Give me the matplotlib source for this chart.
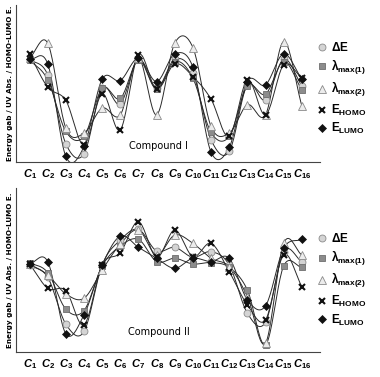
import numpy as np
import matplotlib
matplotlib.use("Agg")
import matplotlib.pyplot as plt

plt.rcParams['mathtext.fontset'] = 'custom'
plt.rcParams['mathtext.it'] = 'Liberation Sans:italic:bold'
plt.rcParams['mathtext.rm'] = 'Liberation Sans:bold'
plt.rcParams['mathtext.bf'] = 'Liberation Sans:bold'

categories = [r'$C_{%d}$' % i for i in range(1, 17)]
series_names = [r'$\mathrm{\Delta E}$', r'$\mathrm{\lambda}_{\mathrm{max(1)}}$',
                r'$\mathrm{\lambda}_{\mathrm{max(2)}}$',
                r'$\mathrm{E}_{\mathrm{HOMO}}$', r'$\mathrm{E}_{\mathrm{LUMO}}$']

# compound I (arbitrary units)
c1_dE    = [309, 262, 55, 25, 222, 175, 309, 222, 309, 267, 67, 32, 232, 187, 309, 229]
c1_lam1  = [307, 247, 92, 77, 222, 191, 307, 219, 302, 252, 89, 77, 229, 204, 302, 217]
c1_lam2  = [312, 357, 102, 87, 162, 142, 312, 142, 357, 344, 107, 87, 172, 142, 362, 169]
c1_homo  = [324, 225, 185, 52, 205, 97, 322, 219, 295, 257, 189, 77, 247, 142, 292, 252]
c1_lumo  = [309, 295, 17, 47, 249, 245, 312, 242, 325, 285, 30, 44, 242, 232, 325, 249]

# compound II
c2_dE    = [262, 225, 84, 62, 262, 337, 369, 304, 315, 285, 302, 262, 117, 90, 302, 272]
c2_lam1  = [269, 239, 129, 125, 259, 319, 339, 272, 282, 265, 269, 255, 187, 22, 259, 255]
c2_lam2  = [265, 232, 175, 162, 247, 325, 367, 292, 352, 327, 282, 257, 167, 27, 327, 292]
c2_homo  = [265, 192, 185, 82, 262, 299, 392, 285, 367, 287, 327, 242, 142, 97, 292, 197]
c2_lumo  = [265, 272, 55, 112, 262, 349, 315, 282, 252, 282, 272, 282, 157, 139, 312, 339]

styles = [
    dict(marker='o', ms=5, mfc='#d4d4d4', mec='#8a8a8a', mew=0.6),
    dict(marker='s', ms=5, mfc='#8c8c8c', mec='#6e6e6e', mew=0.6),
    dict(marker='^', ms=6, mfc='#ececec', mec='#8a8a8a', mew=0.6),
    dict(marker='x', ms=4.5, mfc='k', mec='#111111', mew=1.5),
    dict(marker='D', ms=4.5, mfc='#111111', mec='#111111', mew=0.5),
]


def smooth(x, y, n=20):
    # catmull-rom style smoothing, like spreadsheet "smoothed line"
    x = np.asarray(x, float)
    y = np.asarray(y, float)
    px = np.concatenate([[2 * x[0] - x[1]], x, [2 * x[-1] - x[-2]]])
    py = np.concatenate([[2 * y[0] - y[1]], y, [2 * y[-1] - y[-2]]])
    xs, ys = [], []
    t = np.linspace(0, 1, n, endpoint=False)
    for i in range(1, len(px) - 2):
        for arr, out in ((px, xs), (py, ys)):
            p0, p1, p2, p3 = arr[i - 1], arr[i], arr[i + 1], arr[i + 2]
            out.extend(0.5 * (2 * p1 + (-p0 + p2) * t +
                              (2 * p0 - 5 * p1 + 4 * p2 - p3) * t ** 2 +
                              (-p0 + 3 * p1 - 3 * p2 + p3) * t ** 3))
    xs.append(x[-1])
    ys.append(y[-1])
    return xs, ys


def draw(ax, data, title, ytop, leg_y):
    x = np.arange(1, 17)
    for vals, st, name in zip(data, styles, series_names):
        sx, sy = smooth(x, vals)
        ax.plot(sx, sy, color='#2a2a2a', lw=0.7, zorder=2)
        ax.plot(x, vals, ls='none', label=name, zorder=3, **st)
    ax.set_xlim(0.25, 17.0)
    ax.set_ylim(0, ytop)
    ax.set_xticks(x)
    ax.set_xticklabels(categories, fontsize=8)
    ax.tick_params(axis='x', length=0, pad=4)
    ax.set_yticks([])
    for s in ('top', 'right'):
        ax.spines[s].set_visible(False)
    for s in ('left', 'bottom'):
        ax.spines[s].set_color('#444444')
        ax.spines[s].set_linewidth(0.8)
    ax.set_ylabel('Energy gab / UV Abs. / HOMO-LUMO E.', fontsize=5.2,
                  fontweight='bold', labelpad=2)
    ax.text(0.47, 0.10 if ytop < 480 else 0.12, title, transform=ax.transAxes,
            ha='center', va='center', fontsize=7)
    ax.legend(loc='upper left', bbox_to_anchor=(0.975, leg_y),
              frameon=False, fontsize=8.5, handlelength=0.8,
              handletextpad=0.4, labelspacing=0.3, borderaxespad=0)


fig = plt.figure(figsize=(3.8, 3.77), dpi=100)
ax1 = fig.add_axes([0.042, 0.570, 0.800, 0.417])
ax2 = fig.add_axes([0.042, 0.066, 0.800, 0.435])

draw(ax1, [c1_dE, c1_lam1, c1_lam2, c1_homo, c1_lumo], 'Compound I', 472, 0.80)
draw(ax2, [c2_dE, c2_lam1, c2_lam2, c2_homo, c2_lumo], 'Compound II', 493, 0.76)

fig.savefig('out.png', dpi=100)
